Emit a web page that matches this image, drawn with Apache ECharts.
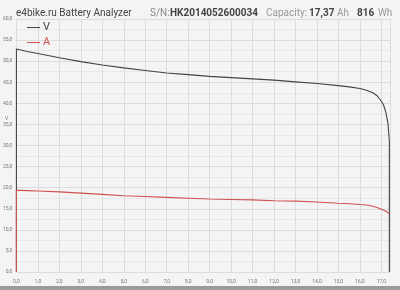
<!DOCTYPE html>
<html><head><meta charset="utf-8">
<script src="https://cdn.jsdelivr.net/npm/echarts@6/dist/echarts.min.js"></script>
<style>html,body{margin:0;padding:0;background:#f4f4f4}#c{width:400px;height:290px}</style>
</head><body><div id="c"></div>
<script>
const hours = [0, 0, 0.5, 1, 2, 3, 4, 5, 6, 7, 8, 9, 10, 11, 12, 13, 14, 15, 15.5, 16, 16.3, 16.6, 16.8, 17.0, 17.1, 17.2, 17.3, 17.37, 17.37];
const volts = [0, 52.9, 52.3, 51.8, 50.8, 49.9, 49.1, 48.4, 47.8, 47.2, 46.8, 46.4, 46.1, 45.8, 45.5, 45.1, 44.7, 44.2, 43.9, 43.5, 43.1, 42.5, 41.8, 40.5, 39.6, 38.0, 35.5, 31.0, 0];
const amps  = [0, 19.4, 19.3, 19.2, 19.0, 18.7, 18.4, 18.1, 17.9, 17.7, 17.5, 17.3, 17.2, 17.1, 16.9, 16.8, 16.6, 16.3, 16.2, 16.0, 15.9, 15.6, 15.3, 14.9, 14.7, 14.4, 14.1, 13.8, 13.8];
const seriesNames = ['V', 'A'];
const titleParts = ['e4bike.ru Battery Analyzer', 'S/N:', 'HK2014052600034', 'Capacity:', '17,37', 'Ah', '816', 'Wh'];

const fmt = v => v.toFixed(1).replace('.', ',');
const pair = arr => hours.map((h, i) => [h, arr[i]]);
const font = 'Roboto';
const chart = echarts.init(document.getElementById('c'), null, {renderer: 'canvas'});
const tx = (x, txt, bold, color) => ({type: 'text', left: x, top: 8, style: {text: txt, font: (bold ? 'bold ' : '') + '10px "' + font + '"', fill: color}});
chart.setOption({
  backgroundColor: '#f4f4f4',
  animation: false,
  graphic: [
    tx(16, titleParts[0], false, '#444'),
    tx(150, titleParts[1], false, '#888'),
    tx(170, titleParts[2], true, '#444'),
    tx(266, titleParts[3], false, '#999'),
    tx(309, titleParts[4], true, '#444'),
    tx(337, titleParts[5], false, '#999'),
    tx(357, titleParts[6], true, '#444'),
    tx(378, titleParts[7], false, '#999'),
    {type: 'text', left: 5, top: 116, style: {text: 'V', font: '5px "' + font + '"', fill: '#777'}},
    {type: 'rect', shape: {x: 0, y: 286, width: 400, height: 4}, style: {fill: '#9a9a9a'}}
  ],
  legend: {
    orient: 'vertical', left: 22, top: 17, itemWidth: 13, itemHeight: 8, itemGap: 4,
    icon: 'path://M0,3.5L13,3.5L13,4.5L0,4.5Z',
    data: [
      {name: seriesNames[0], textStyle: {color: '#444'}},
      {name: seriesNames[1], textStyle: {color: '#d05050'}}
    ],
    textStyle: {fontSize: 11, fontFamily: font, padding: [0, 0, 0, -2]}
  },
  grid: {left: 15, right: 10, top: 19, bottom: 18, containLabel: false},
  xAxis: {
    type: 'value', min: 0, max: 17.4, interval: 1,
    axisLine: {show: false}, axisTick: {show: false},
    axisLabel: {formatter: v => (Math.abs(v - Math.round(v)) < 1e-6 ? fmt(v) : ''), fontSize: 5, color: '#777', fontFamily: font, margin: 7, showMaxLabel: false},
    splitLine: {lineStyle: {color: '#dcdcdc', width: 1}}
  },
  yAxis: {
    type: 'value', min: 0, max: 60, interval: 5,
    axisLine: {show: false}, axisTick: {show: false},
    axisLabel: {formatter: fmt, fontSize: 5, color: '#777', fontFamily: font, margin: 4},
    splitLine: {lineStyle: {color: '#dcdcdc', width: 1}},
    minorTick: {show: false, splitNumber: 2},
    minorSplitLine: {show: true, lineStyle: {color: '#e9e9e9', width: 1}}
  },
  series: [
    {name: seriesNames[0], type: 'line', data: pair(volts), showSymbol: false, symbol: 'none', z: 2,
     lineStyle: {color: '#444', width: 1.1}, itemStyle: {color: '#444'}},
    {name: seriesNames[1], type: 'line', data: pair(amps), showSymbol: false, symbol: 'none', z: 3,
     lineStyle: {color: '#d05050', width: 1.1}, itemStyle: {color: '#d05050'}}
  ]
});
</script></body></html>
